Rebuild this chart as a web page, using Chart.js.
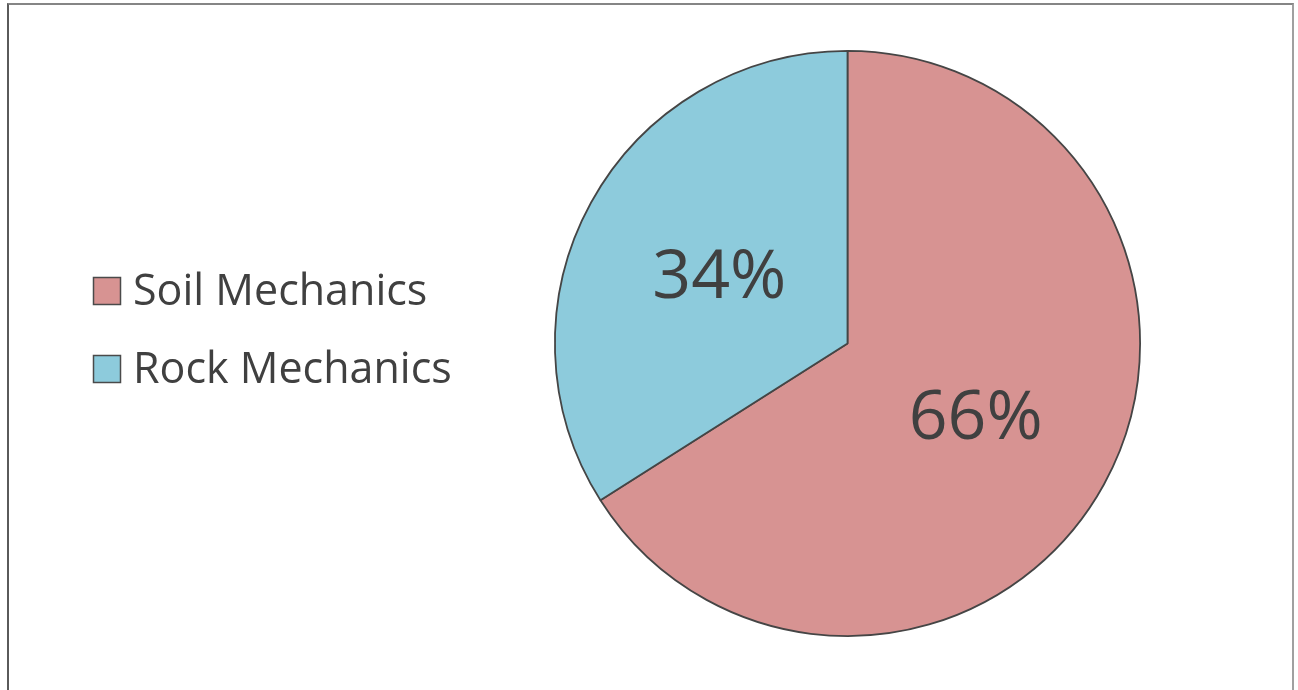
<!DOCTYPE html>
<html>
<head>
<meta charset="utf-8">
<script src="https://cdn.jsdelivr.net/npm/chart.js@4.4.1/dist/chart.umd.min.js"></script>
<style>
    html, body { margin: 0; padding: 0; background: #fff; overflow: hidden; }
    #wrap { position: relative; width: 1298px; height: 690px; }
    #frame {
        position: absolute; left: 7px; top: 3px; width: 1283px; height: 700px;
        border-left: 2px solid #5a5a5a; border-top: 2px solid #858585; border-right: 2px solid #a0a0a0;
        pointer-events: none;
    }
    canvas { position: absolute; left: 0; top: 0; }
</style>
</head>
<body>
<div id="wrap">
    <canvas id="shareChart" width="1298" height="690"></canvas>
    <div id="frame"></div>
</div>
<script>
// --- Chart Data ---
const categories = ['Soil Mechanics', 'Rock Mechanics'];
const shareValues = [66, 34];
const sliceColors = ['#d79392', '#8dcbdc'];

const TEXT_COLOR = '#404040';
const FONT_FAMILY = '"Open Sans", "Noto Sans", sans-serif';

// Percent labels drawn at each slice's centroid
const sliceLabelPlugin = {
    id: 'sliceLabels',
    afterDatasetsDraw(chart) {
        const ctx = chart.ctx;
        const meta = chart.getDatasetMeta(0);
        ctx.save();
        ctx.fillStyle = TEXT_COLOR;
        ctx.font = `68px ${FONT_FAMILY}`;
        ctx.textAlign = 'center';
        ctx.textBaseline = 'middle';
        meta.data.forEach((arc, i) => {
            const pos = arc.tooltipPosition();
            ctx.fillText(`${chart.data.datasets[0].data[i]}%`, pos.x, pos.y + 6);
        });
        ctx.restore();
    }
};

// Legend on the left, built from the chart's labels and colours
const sideLegendPlugin = {
    id: 'sideLegend',
    afterDraw(chart) {
        const ctx = chart.ctx;
        const labels = chart.data.labels;
        const colors = chart.data.datasets[0].backgroundColor;
        const boxSize = 27;
        const boxX = 93.5;
        const rowY = [291, 369];
        ctx.save();
        ctx.font = `43px ${FONT_FAMILY}`;
        ctx.textBaseline = 'middle';
        labels.forEach((label, i) => {
            const cy = rowY[i];
            ctx.fillStyle = colors[i];
            ctx.fillRect(boxX, cy - boxSize / 2, boxSize, boxSize);
            ctx.strokeStyle = '#4a4a4a';
            ctx.lineWidth = 1.5;
            ctx.strokeRect(boxX, cy - boxSize / 2, boxSize, boxSize);
            ctx.fillStyle = TEXT_COLOR;
            ctx.fillText(label, 133, cy + 2);
        });
        ctx.restore();
    }
};

new Chart(document.getElementById('shareChart'), {
    type: 'pie',
    data: {
        labels: categories,
        datasets: [{
            data: shareValues,
            backgroundColor: sliceColors,
            borderColor: '#454545',
            borderWidth: 1.8
        }]
    },
    options: {
        responsive: false,
        animation: false,
        devicePixelRatio: 1,
        layout: { padding: { left: 554, right: 157, top: 50, bottom: 53 } },
        plugins: {
            legend: { display: false },
            tooltip: { enabled: false }
        }
    },
    plugins: [sliceLabelPlugin, sideLegendPlugin]
});
</script>
</body>
</html>
